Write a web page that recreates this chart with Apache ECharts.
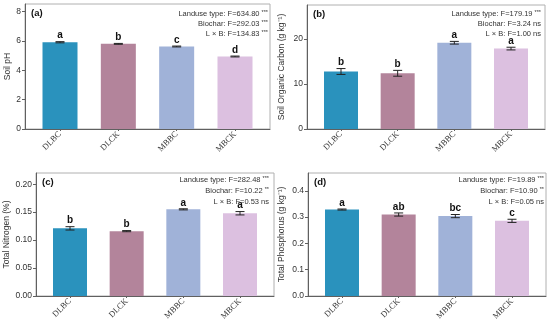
<!DOCTYPE html>
<html><head><meta charset="utf-8">
<script src="https://cdn.jsdelivr.net/npm/echarts@6/dist/echarts.min.js"></script>
<style>html,body{margin:0;padding:0;background:#fff}#c{width:550px;height:325px}</style>
</head><body><div id="c"></div>
<script>
const categories = ['DLBC', 'DLCK', 'MBBC', 'MBCK'];

const phMean = [5.90, 5.79, 5.61, 4.93];
const phErr = [0.04, 0.03, 0.03, 0.03];
const phLetters = ['a', 'b', 'c', 'd'];
const phTicks = [0, 2, 4, 6, 8];

const socMean = [12.8, 12.4, 19.2, 17.9];
const socErr = [0.65, 0.65, 0.3, 0.3];
const socLetters = ['b', 'b', 'a', 'a'];
const socTicks = [0, 10, 20];

const tnMean = [0.121, 0.116, 0.155, 0.148];
const tnErr = [0.003, 0.001, 0.001, 0.003];
const tnLetters = ['b', 'b', 'a', 'a'];
const tnTicks = [0, 0.05, 0.10, 0.15, 0.20];

const tpMean = [0.329, 0.310, 0.304, 0.286];
const tpErr = [0.002, 0.006, 0.006, 0.006];
const tpLetters = ['a', 'ab', 'bc', 'c'];
const tpTicks = [0, 0.1, 0.2, 0.3, 0.4];

const phStats = [['Landuse type: F=634.80', '***'], ['Biochar: F=292.03', '***'], ['L × B: F=134.83', '***']];
const socStats = [['Landuse type: F=179.19', '***'], ['Biochar: F=3.24 ns', ''], ['L × B: F=1.00 ns', '']];
const tnStats = [['Landuse type: F=282.48', '***'], ['Biochar: F=10.22', '**'], ['L × B: F=0.53 ns', '']];
const tpStats = [['Landuse type: F=19.89', '***'], ['Biochar: F=10.90', '**'], ['L × B: F=0.05 ns', '']];

const colors = ['#2a92bd', '#b3849b', '#a0b2d8', '#dcc0e0'];
const SANS = 'Liberation Sans, Arial, sans-serif';

const panels = [
  {label: '(a)', name: 'Soil pH', mean: phMean, err: phErr, letters: phLetters, ticks: phTicks, max: 8.5, dec: 0, stats: phStats,
   grid: {left: 25, top: 4, width: 245, height: 125}, nameGap: 13, statRight: 268, statY: [14.3, 24.3, 34.3]},
  {label: '(b)', name: 'Soil Organic Carbon (g kg⁻¹)', mean: socMean, err: socErr, letters: socLetters, ticks: socTicks, max: 27.6, dec: 0, stats: socStats,
   grid: {left: 307, top: 5, width: 238, height: 124}, nameGap: 21, statRight: 541, statY: [14.3, 24.3, 34.3]},
  {label: '(c)', name: 'Total Nitrogen (%)', mean: tnMean, err: tnErr, letters: tnLetters, ticks: tnTicks, max: 0.22, dec: 2, stats: tnStats,
   grid: {left: 36, top: 173, width: 238, height: 123}, nameGap: 24, statRight: 269, statY: [180, 191, 202]},
  {label: '(d)', name: 'Total Phosphorus (g kg⁻¹)', mean: tpMean, err: tpErr, letters: tpLetters, ticks: tpTicks, max: 0.468, dec: 1, stats: tpStats,
   grid: {left: 308, top: 173, width: 238, height: 123}, nameGap: 22, statRight: 544, statY: [180, 191, 202]}
];

const grid = [], xAxis = [], yAxis = [], series = [], graphic = [];
panels.forEach((p, i) => {
  grid.push(Object.assign({show: true, borderColor: '#b0b0b0', borderWidth: 1, backgroundColor: 'transparent'}, p.grid));
  xAxis.push({
    type: 'value', gridIndex: i, min: -0.6, max: 3.6,
    axisLine: {show: true, onZero: false, lineStyle: {color: '#606060', width: 1}},
    axisTick: {show: true, customValues: [0, 1, 2, 3], length: 2, lineStyle: {color: '#606060'}},
    axisLabel: {customValues: [0, 1, 2, 3], rotate: 45, margin: 4, fontFamily: 'Liberation Serif, Times New Roman, serif', fontSize: 8.5, color: '#333',
      formatter: v => categories[Math.round(v)] || ''},
    splitLine: {show: false}
  });
  yAxis.push({
    type: 'value', gridIndex: i, min: 0, max: p.max,
    name: p.name, nameLocation: 'middle', nameGap: p.nameGap,
    nameTextStyle: {fontFamily: SANS, fontSize: 8.5, color: '#333'},
    axisLine: {show: true, onZero: false, lineStyle: {color: '#606060', width: 1}},
    axisTick: {show: true, customValues: p.ticks, length: 3, lineStyle: {color: '#606060'}},
    axisLabel: {customValues: p.ticks, margin: 4, fontFamily: SANS, fontSize: 8.5, color: '#333',
      formatter: v => Number(v).toFixed(p.dec)},
    splitLine: {show: false}
  });
  series.push({
    type: 'bar', xAxisIndex: i, yAxisIndex: i, barWidth: i === 0 ? 35 : 34,
    data: p.mean.map((v, k) => ({value: [k, v], itemStyle: {color: colors[k]}})),
    silent: true
  });
  series.push({
    type: 'custom', xAxisIndex: i, yAxisIndex: i, silent: true, z: 5,
    data: p.mean.map((v, k) => [k, v, p.err[k]]),
    renderItem: (params, api) => {
      const x = api.value(0), m = api.value(1), e = api.value(2);
      const t = api.coord([x, m + e]), b = api.coord([x, m - e]);
      const cw = 4.5;
      const st = {stroke: '#222', lineWidth: 1};
      return {type: 'group', children: [
        {type: 'line', shape: {x1: t[0], y1: t[1], x2: b[0], y2: b[1]}, style: st},
        {type: 'line', shape: {x1: t[0] - cw, y1: t[1], x2: t[0] + cw, y2: t[1]}, style: st},
        {type: 'line', shape: {x1: b[0] - cw, y1: b[1], x2: b[0] + cw, y2: b[1]}, style: st},
        {type: 'text', style: {text: p.letters[params.dataIndex], x: t[0], y: t[1] - 1, align: 'center', verticalAlign: 'bottom',
          font: 'bold 10px ' + SANS, fill: '#111'}}
      ]};
    }
  });
  graphic.push({type: 'text', left: p.grid.left + 6, top: p.grid.top + 4,
    style: {text: p.label, font: 'bold 9.5px ' + SANS, fill: '#111'}});
  p.stats.forEach((s, k) => {
    graphic.push({type: 'text', x: p.statRight, y: p.statY[k],
      style: {text: s[0] + (s[1] ? ' {s|' + s[1] + '}' : ''), align: 'right', verticalAlign: 'middle',
        font: '7.5px ' + SANS, fill: '#333',
        rich: {s: {fontSize: 5.5, fontFamily: SANS, fill: '#333', verticalAlign: 'top', padding: [0, 0, 3, 0]}}}});
  });
});

const chart = echarts.init(document.getElementById('c'), null, {renderer: 'canvas'});
chart.setOption({animation: false, backgroundColor: '#fff', grid, xAxis, yAxis, series, graphic});
</script>
</body></html>
